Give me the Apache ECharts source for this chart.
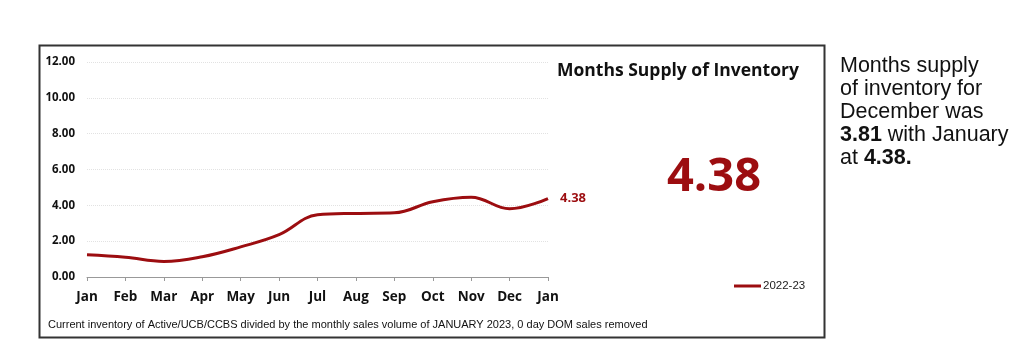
<!DOCTYPE html>
<html>
<head>
<meta charset="utf-8">
<script src="https://cdn.jsdelivr.net/npm/echarts@6/dist/echarts.min.js"></script>
<style>
  html, body { margin: 0; padding: 0; background: #fff; }
  #main { width: 1024px; height: 354px; }
</style>
</head>
<body>
<div id="main"></div>
<script>
// data
var months = ['Jan', 'Feb', 'Mar', 'Apr', 'May', 'Jun', 'Jul', 'Aug', 'Sep', 'Oct', 'Nov', 'Dec', 'Jan'];
var supply = [1.24, 1.1, 0.87, 1.13, 1.68, 2.36, 3.47, 3.55, 3.58, 4.2, 4.45, 3.81, 4.38];
var yTicks = [0, 2, 4, 6, 8, 10, 12];
var seriesName = '2022-23';
var red = '#9c0d10';

var chart = echarts.init(document.getElementById('main'));
chart.setOption({
    animation: false,
    grid: { left: 87, right: 476, top: 62, bottom: 77 },
    xAxis: {
        type: 'category',
        data: months,
        boundaryGap: false,
        axisLine: { lineStyle: { color: '#999', width: 1 } },
        axisTick: { show: true, alignWithLabel: true, length: 4, lineStyle: { color: '#999' } },
        axisLabel: {
            color: '#111', fontWeight: 'bold', fontSize: 13.5,
            fontFamily: 'Open Sans', margin: 13, interval: 0
        }
    },
    yAxis: {
        type: 'value',
        min: yTicks[0],
        max: yTicks[yTicks.length - 1],
        interval: 2,
        axisLine: { show: false },
        axisTick: { show: false },
        splitLine: { lineStyle: { color: '#e2e2e2', type: 'dotted' } },
        axisLabel: {
            color: '#111', fontWeight: 'bold', fontSize: 11.5,
            fontFamily: 'Open Sans', margin: 12,
            formatter: function (v) { return v.toFixed(2); }
        }
    },
    legend: {
        data: [seriesName],
        left: 729, top: 275,
        itemWidth: 27, itemHeight: 3, itemGap: 2,
        icon: 'rect',
        textStyle: { fontFamily: 'Liberation Sans', fontSize: 11.5, color: '#222', padding: [0, 0, 0, -3] }
    },
    series: [{
        name: seriesName,
        type: 'line',
        data: supply,
        smooth: 0.4,
        symbol: 'none',
        lineStyle: { color: red, width: 3 },
        itemStyle: { color: red },
        endLabel: {
            show: true, color: red, fontWeight: 'bold', fontSize: 13,
            fontFamily: 'Open Sans', distance: 12,
            formatter: function (p) { return p.value.toFixed(2); }
        }
    }],
    graphic: [
        {
            type: 'rect', left: 37, top: 43, z: 0,
            shape: { width: 785, height: 292 },
            style: { fill: 'none', stroke: '#333', lineWidth: 2 }
        },
        {
            type: 'text', left: 557, top: 62,
            style: { text: 'Months Supply of Inventory', font: 'bold 17.5px "Open Sans"', fill: '#111' }
        },
        {
            type: 'text', left: 667, top: 154,
            style: { text: supply[supply.length - 1].toFixed(2), font: 'bold 47px "Open Sans"', fill: red }
        },
        {
            type: 'text', left: 48, top: 319,
            style: {
                text: 'Current inventory of Active/UCB/CCBS divided by the monthly sales volume of JANUARY 2023, 0 day DOM sales removed',
                font: '11px "Liberation Sans"', fill: '#111'
            }
        },
        {
            type: 'text', left: 840, top: 55,
            style: {
                text: 'Months supply\nof inventory for\nDecember was\n{b|' + supply[11].toFixed(2) + '} with January\nat {b|' + supply[12].toFixed(2) + '.}',
                font: '21.5px "Liberation Sans"', fill: '#111', lineHeight: 23,
                rich: { b: { font: 'bold 21.5px "Liberation Sans"', fill: '#111', lineHeight: 23 } }
            }
        }
    ]
});
</script>
</body>
</html>
